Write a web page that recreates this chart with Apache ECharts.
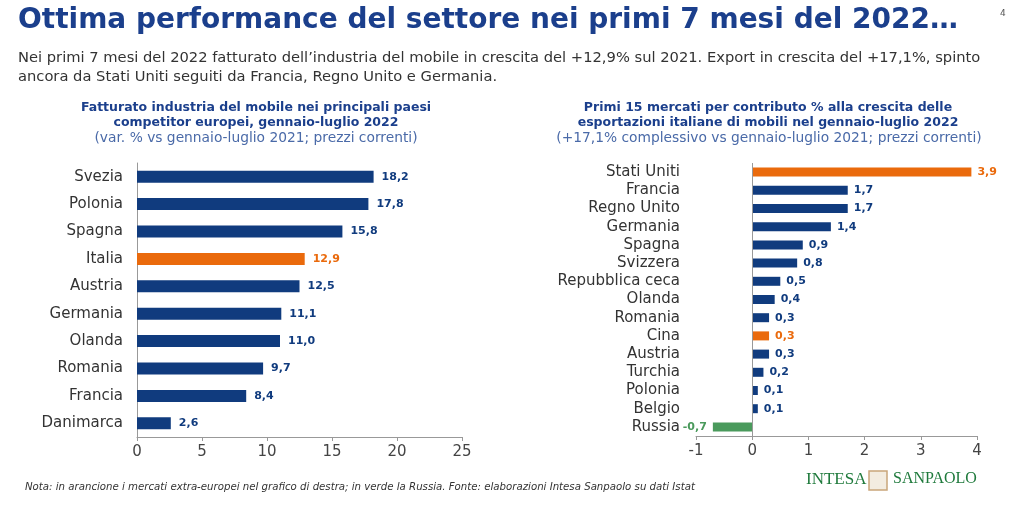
<!DOCTYPE html>
<html><head><meta charset="utf-8">
<script src="https://cdn.jsdelivr.net/npm/echarts@6/dist/echarts.min.js"></script>
<style>html,body{margin:0;padding:0;background:#fff}#c{width:1024px;height:512px}</style>
</head><body><div id="c"></div>
<script>
const leftCategories = ['Svezia','Polonia','Spagna','Italia','Austria','Germania','Olanda','Romania','Francia','Danimarca'];
const leftValues = [18.2,17.8,15.8,12.9,12.5,11.1,11.0,9.7,8.4,2.6];
const leftHighlight = ['Italia'];
const leftTicks = [0,5,10,15,20,25];

const rightCategories = ['Stati Uniti','Francia','Regno Unito','Germania','Spagna','Svizzera','Repubblica ceca','Olanda','Romania','Cina','Austria','Turchia','Polonia','Belgio','Russia'];
const rightValues = [3.9,1.7,1.7,1.4,0.9,0.8,0.5,0.4,0.3,0.3,0.3,0.2,0.1,0.1,-0.7];
const rightOrange = ['Stati Uniti','Cina'];
const rightGreen = ['Russia'];
const rightTicks = [-1,0,1,2,3,4];

const NAVY = '#103b7e', ORANGE = '#ea6a0c', GREEN = '#4a9a5c', TITLE = '#1b3f8c';
const FONT = '"DejaVu Sans"';
const fmt = v => v.toFixed(1).replace('.', ',');

const chart = echarts.init(document.getElementById('c'), null, {renderer:'canvas'});

function leftData(){
  return leftValues.map((v,i)=>{
    const c = leftHighlight.includes(leftCategories[i]) ? ORANGE : NAVY;
    return {value:v, itemStyle:{color:c}, label:{color:c}};
  });
}
function rightData(){
  return rightValues.map((v,i)=>{
    const n = rightCategories[i];
    const c = rightOrange.includes(n) ? ORANGE : rightGreen.includes(n) ? GREEN : NAVY;
    return {value:v, itemStyle:{color:c}, label:{color:c, position: v<0?'left':'right'}};
  });
}

const axisLabelStyle = {color:'#444', fontFamily:FONT, fontSize:15};

chart.setOption({
  animation:false,
  grid:[
    {left:137, right:562, top:163, height:274},
    {left:696, right:47, top:163, height:273}
  ],
  xAxis:[
    {gridIndex:0, type:'value', min:leftTicks[0], max:leftTicks[leftTicks.length-1], interval:5,
     axisLine:{show:true, lineStyle:{color:'#999'}}, axisTick:{show:true, length:4, inside:false, lineStyle:{color:'#999'}},
     splitLine:{show:false}, axisLabel:Object.assign({margin:8}, axisLabelStyle)},
    {gridIndex:1, type:'value', min:rightTicks[0], max:rightTicks[rightTicks.length-1], interval:1,
     axisLine:{show:true, onZero:false, lineStyle:{color:'#999'}}, axisTick:{show:true, length:4, lineStyle:{color:'#999'}},
     splitLine:{show:false}, axisLabel:Object.assign({margin:8}, axisLabelStyle)}
  ],
  yAxis:[
    {gridIndex:0, type:'category', data:leftCategories, inverse:true,
     axisLine:{show:true, lineStyle:{color:'#999'}}, axisTick:{show:false},
     axisLabel:{color:'#333', fontFamily:FONT, fontSize:15, margin:14, interval:0}},
    {gridIndex:1, type:'category', data:rightCategories, inverse:true,
     axisLine:{show:false}, axisTick:{show:false},
     axisLabel:{color:'#333', fontFamily:FONT, fontSize:15, margin:16, interval:0}}
  ],
  series:[
    {type:'bar', xAxisIndex:0, yAxisIndex:0, data:leftData(), barWidth:12,
     label:{show:true, position:'right', distance:8, fontFamily:FONT, fontWeight:'bold', fontSize:11, formatter:p=>fmt(p.value)}},
    {type:'bar', xAxisIndex:1, yAxisIndex:1, data:rightData(), barWidth:9,
     label:{show:true, distance:6, fontFamily:FONT, fontWeight:'bold', fontSize:11, formatter:p=>fmt(p.value)},
     markLine:{silent:true, symbol:['none','none'], label:{show:false}, lineStyle:{color:'#999', type:'solid', width:1},
       data:[{xAxis:0}]}}
  ],
  graphic:[
    {type:'text', left:18, top:7, style:{text:'Ottima performance del settore nei primi 7 mesi del 2022…', fill:TITLE, font:'bold 28px '+FONT}},
    {type:'text', left:1000, top:9, style:{text:'4', fill:'#555', font:'9px '+FONT}},
    {type:'text', left:18, top:51, style:{text:'Nei primi 7 mesi del 2022 fatturato dell’industria del mobile in crescita del +12,9% sul 2021. Export in crescita del +17,1%, spinto', fill:'#333', font:'14.7px '+FONT}},
    {type:'text', left:18, top:70, style:{text:'ancora da Stati Uniti seguiti da Francia, Regno Unito e Germania.', fill:'#333', font:'14.7px '+FONT}},
    {type:'text', x:256, y:101, style:{text:'Fatturato industria del mobile nei principali paesi', fill:TITLE, font:'bold 12.5px '+FONT, align:'center'}},
    {type:'text', x:256, y:116, style:{text:'competitor europei, gennaio-luglio 2022', fill:TITLE, font:'bold 12.5px '+FONT, align:'center'}},
    {type:'text', x:256, y:131, style:{text:'(var. % vs gennaio-luglio 2021; prezzi correnti)', fill:'#4a6aa8', font:'13.8px '+FONT, align:'center'}},
    {type:'text', x:768, y:101, style:{text:'Primi 15 mercati per contributo % alla crescita delle', fill:TITLE, font:'bold 12.5px '+FONT, align:'center'}},
    {type:'text', x:768, y:116, style:{text:'esportazioni italiane di mobili nel gennaio-luglio 2022', fill:TITLE, font:'bold 12.5px '+FONT, align:'center'}},
    {type:'text', x:769, y:131, style:{text:'(+17,1% complessivo vs gennaio-luglio 2021; prezzi correnti)', fill:'#4a6aa8', font:'13.8px '+FONT, align:'center'}},
    {type:'text', left:25, top:482, style:{text:'Nota: in arancione i mercati extra-europei nel grafico di destra; in verde la Russia. Fonte: elaborazioni Intesa Sanpaolo su dati Istat', fill:'#333', font:'italic 10.2px '+FONT}},
    {type:'text', left:806, top:471, style:{text:'INTESA', fill:'#1f7a3c', font:'17px "Liberation Serif"'}},
    {type:'rect', shape:{x:869, y:471, width:18, height:19}, style:{fill:'#f3ece0', stroke:'#c9a57a', lineWidth:1.5}},
    {type:'text', left:893, top:471, style:{text:'SANPAOLO', fill:'#1f7a3c', font:'16px "Liberation Serif"'}}
  ]
});
</script></body></html>
